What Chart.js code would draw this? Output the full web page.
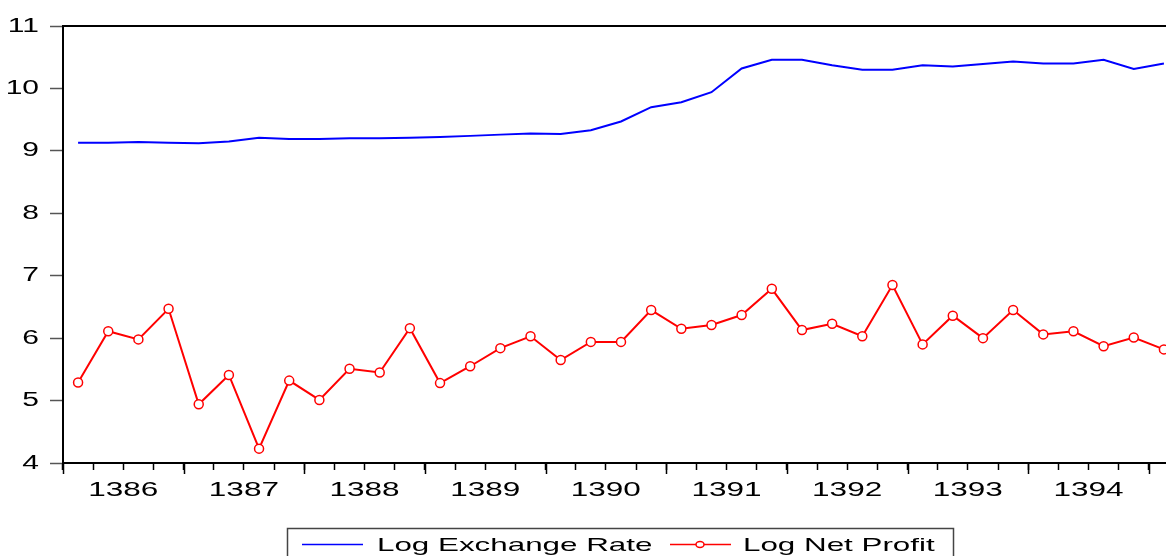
<!DOCTYPE html>
<html>
<head>
<meta charset="utf-8">
<script src="https://cdn.jsdelivr.net/npm/chart.js@4/dist/chart.umd.min.js"></script>
<style>
  html, body { margin: 0; padding: 0; overflow: hidden; background: #fff; }
  #wrap { width: 1185px; height: 556px; }
</style>
</head>
<body>
<div id="wrap"><canvas id="chart" width="1185" height="556"></canvas></div>
<script>
// quarterly observations, 1386Q1 .. 1395Q1
const quarterLabels = [
  "1386Q1", "1386Q2", "1386Q3", "1386Q4",
  "1387Q1", "1387Q2", "1387Q3", "1387Q4",
  "1388Q1", "1388Q2", "1388Q3", "1388Q4",
  "1389Q1", "1389Q2", "1389Q3", "1389Q4",
  "1390Q1", "1390Q2", "1390Q3", "1390Q4",
  "1391Q1", "1391Q2", "1391Q3", "1391Q4",
  "1392Q1", "1392Q2", "1392Q3", "1392Q4",
  "1393Q1", "1393Q2", "1393Q3", "1393Q4",
  "1394Q1", "1394Q2", "1394Q3", "1394Q4",
  "1395Q1"
];
const yearLabels = ["1386", "1387", "1388", "1389", "1390", "1391", "1392", "1393", "1394"];
const seriesNames = ["Log Exchange Rate", "Log Net Profit"];

const logExchangeRate = [
  9.13, 9.13, 9.14, 9.13, 9.12, 9.15, 9.21, 9.19, 9.19, 9.20, 9.20,
  9.21, 9.22, 9.24, 9.26, 9.28, 9.27, 9.33, 9.47, 9.70, 9.78, 9.94, 10.32, 10.46,
  10.46, 10.37, 10.30, 10.30, 10.37, 10.35, 10.39, 10.43, 10.40, 10.40, 10.46, 10.31, 10.40
];
const logNetProfit = [
  5.29, 6.11, 5.98, 6.47, 4.94, 5.41, 4.23, 5.32, 5.01, 5.51, 5.45,
  6.16, 5.28, 5.55, 5.84, 6.03, 5.65, 5.94, 5.94, 6.45, 6.15, 6.21, 6.37, 6.79,
  6.13, 6.23, 6.03, 6.85, 5.90, 6.36, 6.00, 6.45, 6.06, 6.11, 5.87, 6.01, 5.82
];

const yMin = 4;
const yMax = 11;

const ctx = document.getElementById("chart").getContext("2d");

// the original text is stretched sideways, so widen every label drawn
let textStretch = 1.5;
const baseFillText = CanvasRenderingContext2D.prototype.fillText;
ctx.fillText = function (text, x, y) {
  this.save();
  this.translate(x, y);
  this.scale(textStretch, 1);
  baseFillText.call(this, text, 0, 0);
  this.restore();
};

// top border, long year ticks and the boxed legend
const framePlugin = {
  id: "frame",
  afterDraw(chart) {
    const c = chart.ctx;
    const area = chart.chartArea;
    const xs = chart.scales.x;
    c.save();
    c.strokeStyle = "#000";
    c.lineWidth = 2;
    c.beginPath();
    c.moveTo(area.left, area.top);
    c.lineTo(area.right, area.top);
    c.stroke();

    const step = xs.getPixelForValue(1) - xs.getPixelForValue(0);
    c.lineWidth = 1.5;
    c.beginPath();
    for (let i = 0; i <= quarterLabels.length; i += 4) {
      const px = Math.round(xs.getPixelForValue(i) - step / 2) + 0.5;
      c.moveTo(px, area.bottom);
      c.lineTo(px, area.bottom + 11);
    }
    c.stroke();

    // legend
    c.strokeStyle = "#444";
    c.lineWidth = 1.5;
    c.strokeRect(287.5, 528.5, 666, 40);

    c.lineWidth = 1.5;
    c.strokeStyle = "#0000ff";
    c.beginPath();
    c.moveTo(302, 544.5);
    c.lineTo(363, 544.5);
    c.stroke();

    c.strokeStyle = "#ff0000";
    c.beginPath();
    c.moveTo(670, 544.5);
    c.lineTo(731, 544.5);
    c.stroke();
    c.fillStyle = "#fff";
    c.beginPath();
    c.ellipse(700, 544.5, 4, 3, 0, 0, Math.PI * 2);
    c.fill();
    c.stroke();

    c.fillStyle = "#000";
    c.font = '19px "Liberation Sans", Arial, sans-serif';
    c.textAlign = "left";
    c.textBaseline = "alphabetic";
    textStretch = 1.65;
    c.fillText(seriesNames[0], 377, 551);
    c.fillText(seriesNames[1], 743, 551);
    textStretch = 1.5;
    c.restore();
  },
};

new Chart(ctx, {
  type: "line",
  data: {
    labels: quarterLabels,
    datasets: [
      {
        label: seriesNames[0],
        data: logExchangeRate,
        borderColor: "#0000ff",
        borderWidth: 2,
        pointRadius: 0,
        tension: 0,
      },
      {
        label: seriesNames[1],
        data: logNetProfit,
        borderColor: "#ff0000",
        borderWidth: 2,
        pointRadius: 4.5,
        pointBorderWidth: 1.5,
        pointBackgroundColor: "#fff",
        pointBorderColor: "#ff0000",
        tension: 0,
      },
    ],
  },
  options: {
    responsive: false,
    animation: false,
    layout: { padding: { top: 26, left: 0, right: 1.5, bottom: 0 } },
    plugins: {
      legend: { display: false },
      tooltip: { enabled: false },
    },
    scales: {
      x: {
        offset: true,
        afterFit(scale) {
          scale.height = 93;
        },
        grid: {
          offset: true,
          drawOnChartArea: false,
          tickLength: 7,
          tickColor: "#000",
          tickWidth: 1.5,
        },
        border: { color: "#000", width: 2 },
        ticks: {
          autoSkip: false,
          maxRotation: 0,
          labelOffset: 15,
          padding: 8,
          color: "#000",
          font: { family: '"Liberation Sans", Arial, sans-serif', size: 21 },
          callback: (val, i) => (i % 4 === 1 ? yearLabels[(i - 1) / 4] : ""),
        },
      },
      y: {
        min: yMin,
        max: yMax,
        afterFit(scale) {
          scale.width = 63;
        },
        grid: {
          drawOnChartArea: false,
          tickLength: 13,
          tickColor: "#555",
          tickWidth: 1.5,
        },
        border: { color: "#000", width: 2 },
        ticks: {
          stepSize: 1,
          padding: 11,
          color: "#000",
          font: { family: '"Liberation Sans", Arial, sans-serif', size: 20 },
        },
      },
    },
  },
  plugins: [framePlugin],
});
</script>
</body>
</html>
